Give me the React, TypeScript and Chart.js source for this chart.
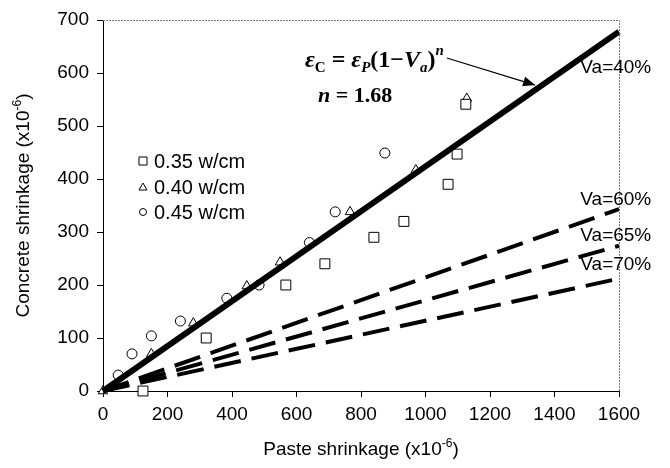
import React, { useEffect, useRef } from 'react';
import { Chart, registerables } from 'chart.js';

Chart.register(...registerables);

// Measured shrinkage, paste (x) vs concrete (y), both x10^-6
const wc035X = [124, 320, 567, 688, 840, 933, 1070, 1098, 1125];
const wc035Y = [0, 100, 200, 240, 290, 320, 390, 447, 541];
const wc040X = [0, 150, 280, 446, 549, 766, 970, 1128];
const wc040Y = [0, 70, 128, 198, 243, 338, 417, 552];
const wc045X = [47, 90, 150, 240, 384, 484, 640, 720, 874];
const wc045Y = [30, 70, 104, 132, 175, 200, 280, 338, 449];

const seriesNames = ['0.35 w/cm', '0.40 w/cm', '0.45 w/cm'];

// Model lines eps_c = eps_p (1 - Va)^n, n = 1.68, drawn from origin to x = 1600
const fitLabels = ['Va=40%', 'Va=60%', 'Va=65%', 'Va=70%'];
const fitX = [0, 1600];
const fitY0 = [0, 0, 0, 0];
const fitY1 = [678, 343, 274, 212];

const X_MIN = 0;
const X_MAX = 1600;
const X_STEP = 200;
const Y_MIN = 0;
const Y_MAX = 700;
const Y_STEP = 100;

const SANS = '"Liberation Sans", Arial, sans-serif';
const SERIF = '"Liberation Serif", "Times New Roman", serif';

const toPoints = (xs: number[], ys: number[]) => xs.map((x, i) => ({ x, y: ys[i] }));

type Seg = { t: string; f: string; dy?: number };

function drawSegs(ctx: CanvasRenderingContext2D, segs: Seg[], x: number, y: number) {
  let cx = x;
  for (const s of segs) {
    ctx.font = s.f;
    ctx.fillText(s.t, cx, y + (s.dy || 0));
    cx += ctx.measureText(s.t).width;
  }
  return cx;
}

function segsWidth(ctx: CanvasRenderingContext2D, segs: Seg[]) {
  let w = 0;
  for (const s of segs) {
    ctx.font = s.f;
    w += ctx.measureText(s.t).width;
  }
  return w;
}

const decorations = {
  id: 'decorations',
  afterDatasetsDraw(chart: any) {
    const { ctx, chartArea } = chart;
    const xs = chart.scales.x;
    const ys = chart.scales.y;
    const { left, right, top, bottom } = chartArea;
    ctx.save();

    // Light dotted frame on top and right
    ctx.strokeStyle = '#777';
    ctx.lineWidth = 1;
    ctx.setLineDash([2, 1]);
    ctx.beginPath();
    ctx.moveTo(left, top + 0.5);
    ctx.lineTo(right + 0.5, top + 0.5);
    ctx.lineTo(right + 0.5, bottom);
    ctx.stroke();
    ctx.setLineDash([]);

    ctx.fillStyle = '#000';
    ctx.textBaseline = 'alphabetic';
    ctx.textAlign = 'left';

    // Axis titles with superscript exponent
    const mainF = `19px ${SANS}`;
    const supF = `12px ${SANS}`;
    const xTitle: Seg[] = [
      { t: 'Paste shrinkage (x10', f: mainF },
      { t: '-6', f: supF, dy: -8 },
      { t: ')', f: mainF },
    ];
    const xw = segsWidth(ctx, xTitle);
    drawSegs(ctx, xTitle, (left + right) / 2 - xw / 2, 455);

    const yTitle: Seg[] = [
      { t: 'Concrete shrinkage (x10', f: mainF },
      { t: '-6', f: supF, dy: -8 },
      { t: ')', f: mainF },
    ];
    const yw = segsWidth(ctx, yTitle);
    ctx.save();
    ctx.translate(29, (top + bottom) / 2);
    ctx.rotate(-Math.PI / 2);
    drawSegs(ctx, yTitle, -yw / 2, 0);
    ctx.restore();

    // Legend inside the plot
    const legX = 143;
    const legY = [161, 187, 212];
    ctx.strokeStyle = '#000';
    ctx.lineWidth = 1;
    ctx.font = `20px ${SANS}`;
    ctx.textBaseline = 'middle';
    seriesNames.forEach((name, i) => {
      const cy = legY[i];
      ctx.beginPath();
      if (i === 0) {
        ctx.rect(legX - 4, cy - 4, 8, 8);
      } else if (i === 1) {
        ctx.moveTo(legX, cy - 4);
        ctx.lineTo(legX + 4, cy + 3);
        ctx.lineTo(legX - 4, cy + 3);
        ctx.closePath();
      } else {
        ctx.arc(legX, cy, 3.5, 0, Math.PI * 2);
      }
      ctx.stroke();
      ctx.fillText(name, legX + 11, cy + 1);
    });

    // Labels for the model lines, placed near the right end of each line
    ctx.font = `19px ${SANS}`;
    const labelDy = [36, -9, -10, -14];
    fitLabels.forEach((lab, i) => {
      const px = xs.getPixelForValue(1480);
      const py = ys.getPixelForValue(fitY1[i]) + labelDy[i];
      ctx.fillText(lab, px, py);
    });

    // Model equation
    ctx.textBaseline = 'alphabetic';
    const big = `bold italic 24px ${SERIF}`;
    const bigUp = `bold 24px ${SERIF}`;
    const sub = `bold 15px ${SERIF}`;
    const subI = `bold italic 15px ${SERIF}`;
    const eq: Seg[] = [
      { t: 'ε', f: big },
      { t: 'C', f: sub, dy: 5 },
      { t: ' = ', f: bigUp },
      { t: 'ε', f: big },
      { t: 'P', f: subI, dy: 5 },
      { t: '(1', f: bigUp },
      { t: '−', f: bigUp },
      { t: 'V', f: big },
      { t: 'a', f: subI, dy: 5 },
      { t: ')', f: bigUp },
      { t: 'n', f: subI, dy: -12 },
    ];
    const eqEnd = drawSegs(ctx, eq, 305, 67);
    drawSegs(ctx, [
      { t: 'n', f: `bold italic 22px ${SERIF}` },
      { t: ' = 1.68', f: `bold 22px ${SERIF}` },
    ], 318, 102);

    // Arrow from the equation to the Va=40% line
    const ax0 = eqEnd + 3;
    const ay0 = 58;
    const tipX = 1340;
    const ax1 = xs.getPixelForValue(tipX);
    const ay1 = ys.getPixelForValue(fitY1[0] * tipX / 1600) - 5;
    ctx.strokeStyle = '#000';
    ctx.lineWidth = 1.3;
    ctx.beginPath();
    ctx.moveTo(ax0, ay0);
    ctx.lineTo(ax1, ay1);
    ctx.stroke();
    const ang = Math.atan2(ay1 - ay0, ax1 - ax0);
    const hl = 12;
    const hw = 5;
    ctx.beginPath();
    ctx.moveTo(ax1, ay1);
    ctx.lineTo(ax1 - hl * Math.cos(ang) + hw * Math.sin(ang), ay1 - hl * Math.sin(ang) - hw * Math.cos(ang));
    ctx.lineTo(ax1 - hl * Math.cos(ang) - hw * Math.sin(ang), ay1 - hl * Math.sin(ang) + hw * Math.cos(ang));
    ctx.closePath();
    ctx.fillStyle = '#000';
    ctx.fill();

    ctx.restore();
  },
};

export default function App() {
  const ref = useRef<HTMLCanvasElement | null>(null);

  useEffect(() => {
    document.body.style.margin = '0';
    document.body.style.overflow = 'hidden';
    const canvas = ref.current;
    if (!canvas) return;

    const fitSets = fitLabels.map((lab, i) => ({
      type: 'line' as const,
      label: lab,
      data: [
        { x: fitX[0], y: fitY0[i] },
        { x: fitX[1], y: fitY1[i] },
      ],
      borderColor: '#000',
      borderWidth: i === 0 ? 6 : 4,
      borderDash: i === 0 ? [] : [27, 11],
      borderCapStyle: 'butt' as const,
      pointRadius: 0,
      showLine: true,
      fill: false,
      order: 0,
    }));

    const markerSet = (label: string, xs: number[], ys: number[], style: string, r: number) => ({
      type: 'scatter' as const,
      label,
      data: toPoints(xs, ys),
      pointStyle: style,
      pointRadius: r,
      pointBorderColor: '#000',
      pointBorderWidth: 1,
      pointBackgroundColor: '#fff',
      showLine: false,
      order: 1,
    });

    const plainTick = (v: any) => String(v);

    const chart = new Chart(canvas, {
      type: 'scatter',
      data: {
        datasets: [
          ...fitSets,
          markerSet(seriesNames[0], wc035X, wc035Y, 'rect', 7),
          markerSet(seriesNames[1], wc040X, wc040Y, 'triangle', 5.5),
          markerSet(seriesNames[2], wc045X, wc045Y, 'circle', 5),
        ] as any,
      },
      options: {
        animation: false,
        responsive: false,
        maintainAspectRatio: false,
        clip: false as any,
        layout: { padding: { left: 0, top: 20, right: 51, bottom: 0 } },
        plugins: {
          legend: { display: false },
          tooltip: { enabled: false },
          title: { display: false },
        },
        scales: {
          x: {
            type: 'linear',
            min: X_MIN,
            max: X_MAX,
            ticks: {
              stepSize: X_STEP,
              color: '#000',
              font: { family: SANS, size: 19 },
              padding: 6,
              maxRotation: 0,
              callback: plainTick,
            },
            grid: {
              display: true,
              drawOnChartArea: false,
              drawTicks: true,
              tickLength: 6,
              color: '#000',
            },
            border: { display: true, color: '#000', width: 1 },
            afterFit: (s: any) => {
              s.height = 77;
            },
          },
          y: {
            type: 'linear',
            min: Y_MIN,
            max: Y_MAX,
            ticks: {
              stepSize: Y_STEP,
              color: '#000',
              font: { family: SANS, size: 19 },
              padding: 8,
              callback: plainTick,
            },
            grid: {
              display: true,
              drawOnChartArea: false,
              drawTicks: true,
              tickLength: 6,
              color: '#000',
            },
            border: { display: true, color: '#000', width: 1 },
            afterFit: (s: any) => {
              s.width = 103;
            },
          },
        },
      },
      plugins: [decorations],
    });

    return () => chart.destroy();
  }, []);

  return (
    <div style={{ width: 670, height: 468, background: '#fff' }}>
      <canvas ref={ref} width={670} height={468} style={{ display: 'block' }} />
    </div>
  );
}
